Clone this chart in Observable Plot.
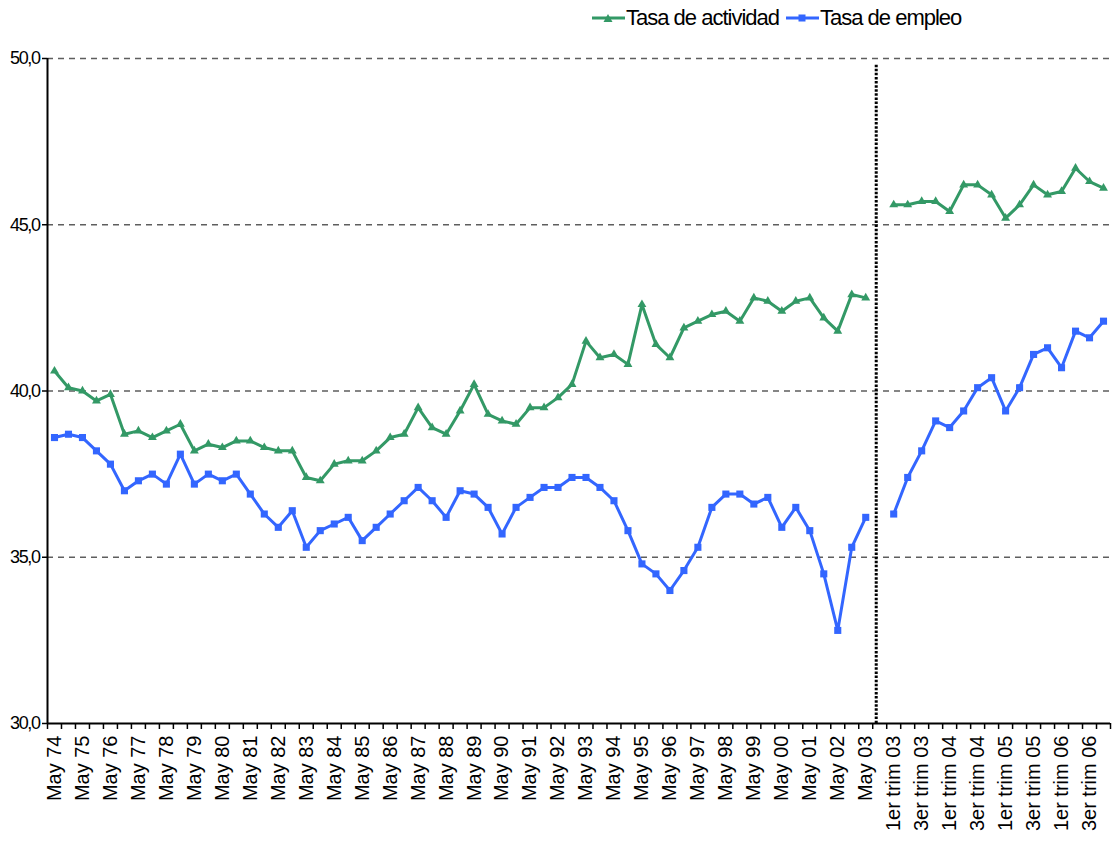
<!DOCTYPE html>
<html>
<head>
<meta charset="utf-8">
<script src="https://cdn.jsdelivr.net/npm/d3@7"></script>
<script src="https://cdn.jsdelivr.net/npm/@observablehq/plot@0.6"></script>
<style>
  html, body { margin: 0; padding: 0; background: #fff; }
  body { width: 1116px; height: 841px; overflow: hidden; font-family: "Liberation Sans", Arial, sans-serif; }
  #legend { position: relative; height: 40px; }
  #legend .wrap { position: absolute; left: 592px; top: 5px; display: flex; align-items: center; }
  #legend .item { display: flex; align-items: center; margin-right: 7px; }
  #legend .item span { font-family: "Liberation Sans", Arial, sans-serif; font-size: 22px; letter-spacing: -1px; color: #000; }
  #legend svg { display: block; margin-right: 1px; }
  #chart svg g[aria-label="y-axis tick label"] text { letter-spacing: -1.4px; }
</style>
</head>
<body>
<div id="legend"><div class="wrap"></div></div>
<div id="chart"></div>
<script>
// ---- Data ----
const seriesNames = ["Tasa de actividad", "Tasa de empleo"];
const seriesColors = ["#339966", "#3366FF"];

// Semiannual waves (May / Oct), 1974 - May 2003
const semiannualPeriods = [];
for (let y = 74; y <= 103; y++) {
  const yy = String(y % 100).padStart(2, "0");
  semiannualPeriods.push("May " + yy);
  if (y < 103) semiannualPeriods.push("Oct " + yy);
}
// Quarterly, 2003 - 2006
const quarterNames = ["1er trim", "2do trim", "3er trim", "4to trim"];
const quarterlyPeriods = [];
for (const yy of ["03", "04", "05", "06"]) for (const q of quarterNames) quarterlyPeriods.push(q + " " + yy);

const periods = [...semiannualPeriods, "", ...quarterlyPeriods];

const actividadSemestral = [
  40.6, 40.1, 40.0, 39.7, 39.9, 38.7, 38.8, 38.6, 38.8, 39.0, 38.2, 38.4, 38.3, 38.5, 38.5,
  38.3, 38.2, 38.2, 37.4, 37.3, 37.8, 37.9, 37.9, 38.2, 38.6, 38.7, 39.5, 38.9, 38.7, 39.4,
  40.2, 39.3, 39.1, 39.0, 39.5, 39.5, 39.8, 40.2, 41.5, 41.0, 41.1, 40.8, 42.6, 41.4, 41.0,
  41.9, 42.1, 42.3, 42.4, 42.1, 42.8, 42.7, 42.4, 42.7, 42.8, 42.2, 41.8, 42.9, 42.8
];
const actividadTrimestral = [45.6, 45.6, 45.7, 45.7, 45.4, 46.2, 46.2, 45.9, 45.2, 45.6, 46.2, 45.9, 46.0, 46.7, 46.3, 46.1];

const empleoSemestral = [
  38.6, 38.7, 38.6, 38.2, 37.8, 37.0, 37.3, 37.5, 37.2, 38.1, 37.2, 37.5, 37.3, 37.5, 36.9,
  36.3, 35.9, 36.4, 35.3, 35.8, 36.0, 36.2, 35.5, 35.9, 36.3, 36.7, 37.1, 36.7, 36.2, 37.0,
  36.9, 36.5, 35.7, 36.5, 36.8, 37.1, 37.1, 37.4, 37.4, 37.1, 36.7, 35.8, 34.8, 34.5, 34.0,
  34.6, 35.3, 36.5, 36.9, 36.9, 36.6, 36.8, 35.9, 36.5, 35.8, 34.5, 32.8, 35.3, 36.2
];
const empleoTrimestral = [36.3, 37.4, 38.2, 39.1, 38.9, 39.4, 40.1, 40.4, 39.4, 40.1, 41.1, 41.3, 40.7, 41.8, 41.6, 42.1];

const actividad = [...actividadSemestral, null, ...actividadTrimestral];
const empleo = [...empleoSemestral, null, ...empleoTrimestral];

const yTicks = [30, 35, 40, 45, 50];
const gridValues = [35, 40, 45, 50];
const breakAt = 59.25; // position of the methodological break (category units)

// ---- Build ----
const n = periods.length;
const rows = periods.map((p, i) => ({ i, p, act: actividad[i], emp: empleo[i] }));
const xc = d => d.i + 0.5;
const labelIdx = periods.map((p, i) => i).filter(i => i % 2 === 0 && periods[i] !== "");

// legend
const wrap = document.querySelector("#legend .wrap");
seriesNames.forEach((name, k) => {
  const item = document.createElement("div");
  item.className = "item";
  const sym = k === 0
    ? `<path d="M16,3 L20.5,11 L11.5,11 Z" fill="${seriesColors[k]}"/>`
    : `<rect x="12.5" y="3.5" width="7" height="7" fill="${seriesColors[k]}"/>`;
  item.innerHTML = `<svg width="33" height="14"><line x1="0" y1="7" x2="33" y2="7" stroke="${seriesColors[k]}" stroke-width="3"/>${sym}</svg><span>${name}</span>`;
  wrap.appendChild(item);
});

const chart = Plot.plot({
  width: 1116,
  height: 801,
  marginLeft: 47,
  marginRight: 6,
  marginTop: 18,
  marginBottom: 118,
  style: { fontFamily: "'Liberation Sans', Arial, sans-serif", background: "#fff", color: "#000" },
  x: { type: "linear", domain: [0, n] },
  y: { domain: [30, 50] },
  marks: [
    Plot.ruleY(gridValues, { stroke: "#5e5e5e", strokeWidth: 1.5, strokeDasharray: "6,5" }),
    Plot.ruleX([breakAt], { y1: 49.8, y2: 30, stroke: "#000", strokeWidth: 3, strokeDasharray: "2.5,1.6" }),
    Plot.ruleX([0], { y1: 30, y2: 50, stroke: "#000", strokeWidth: 2 }),
    Plot.ruleY([30], { stroke: "#000", strokeWidth: 2 }),
    Plot.axisY({
      ticks: yTicks, tickSize: 5, tickPadding: 3,
      tickFormat: d => d.toFixed(1).replace(".", ","),
      fontSize: 18, stroke: "#000", strokeWidth: 1.5, label: null
    }),
    Plot.axisX({ ticks: d3.range(0, n + 1), tickSize: 6, tickFormat: () => "", strokeWidth: 1.5, label: null }),
    Plot.axisX({
      ticks: labelIdx.map(i => i + 0.5), tickSize: 0, tickPadding: 12, tickRotate: -90,
      tickFormat: v => periods[Math.floor(v)], fontSize: 20, label: null
    }),
    Plot.line(rows, { x: xc, y: "act", stroke: seriesColors[0], strokeWidth: 3 }),
    Plot.dot(rows, { x: xc, y: "act", symbol: "triangle", fill: seriesColors[0], r: 3.3 }),
    Plot.line(rows, { x: xc, y: "emp", stroke: seriesColors[1], strokeWidth: 3 }),
    Plot.dot(rows, { x: xc, y: "emp", symbol: "square", fill: seriesColors[1], r: 4 })
  ]
});
document.getElementById("chart").appendChild(chart);
</script>
</body>
</html>
